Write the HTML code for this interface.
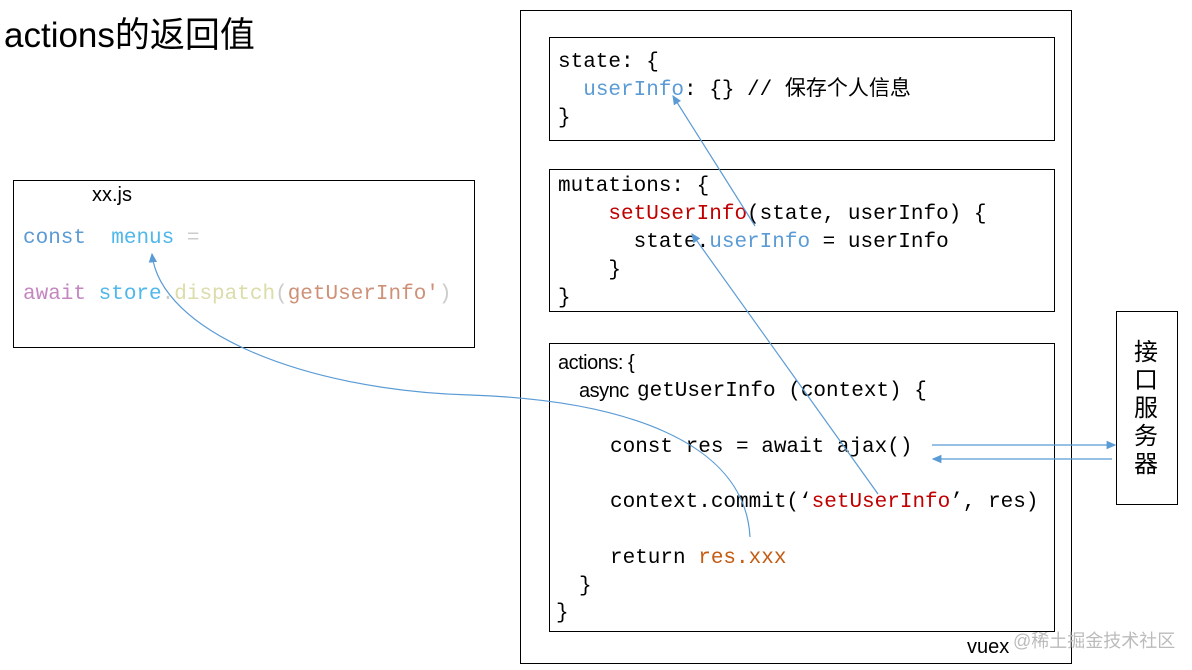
<!DOCTYPE html>
<html><head><meta charset="utf-8"><style>
body{margin:0;width:1192px;height:670px;background:#fff;position:relative;overflow:hidden;font-family:"Liberation Sans","Noto Sans CJK SC",sans-serif}
.b{position:absolute;border:1px solid #000;box-sizing:border-box}
.t{position:absolute;white-space:pre;font-family:"Liberation Mono","Noto Sans CJK SC",monospace;font-size:21px;color:#000;line-height:28px}
.s{position:absolute;white-space:pre;font-size:20px;line-height:28px}
</style></head><body>
<div class="s" style="left:4px;top:15px;font-size:35px;line-height:42px">actions的返回值</div>
<div class="b" style="left:13px;top:180px;width:462px;height:168px"></div>
<div class="s" style="left:92px;top:181px">xx.js</div>
<div class="t" style="left:23px;top:225px"><span style="color:#5b9bd5">const</span>  <span style="color:#4fb7ea">menus</span> <span style="color:#ccc">=</span></div>
<div class="t" style="left:23px;top:281px"><span style="color:#c586c0">await</span> <span style="color:#4fb7ea">store</span><span style="color:#ccc">.</span><span style="color:#dcdcaa">dispatch</span><span style="color:#ccc">(</span><span style="color:#ce9178">getUserInfo'</span><span style="color:#ccc">)</span></div>

<div class="b" style="left:520px;top:10px;width:552px;height:654px"></div>
<div class="s" style="left:967px;top:633px">vuex</div>
<div class="s" style="left:1013px;top:627px;color:#bbb;font-size:18px">@稀土掘金技术社区</div>

<div class="b" style="left:549px;top:37px;width:506px;height:104px"></div>
<div class="t" style="left:558px;top:49px">state: {
  <span style="color:#5b9bd5">userInfo</span>: {} // 保存个人信息
}</div>

<div class="b" style="left:549px;top:169px;width:506px;height:143px"></div>
<div class="t" style="left:558px;top:173px">mutations: {
    <span style="color:#c00000">setUserInfo</span>(state, userInfo) {
      state.<span style="color:#5b9bd5">userInfo</span> = userInfo
    }
}</div>

<div class="b" style="left:549px;top:343px;width:506px;height:289px"></div>
<div class="s" style="left:558px;top:349px;letter-spacing:-0.5px">actions: {</div>
<div class="s" style="left:579px;top:377px;letter-spacing:-0.5px">async</div>
<div class="t" style="left:637px;top:378px">getUserInfo (context) {</div>
<div class="t" style="left:610px;top:434px">const res = await ajax()</div>
<div class="t" style="left:610px;top:489px">context.commit(‘<span style="color:#c00000">setUserInfo</span>’, res)</div>
<div class="t" style="left:610px;top:545px">return <span style="color:#c55a11">res.xxx</span></div>
<div class="t" style="left:579px;top:573px">}</div>
<div class="t" style="left:556px;top:600px">}</div>

<div class="b" style="left:1116px;top:311px;width:62px;height:194px"></div>
<div class="s" style="left:1134px;top:339px;font-size:24px;line-height:28px;width:30px;white-space:normal">接口服务器</div>

<svg width="1192" height="670" style="position:absolute;left:0;top:0">
<defs><marker id="a" markerWidth="8" markerHeight="8" refX="7" refY="4" orient="auto"><path d="M0,0.5L8,4L0,7.5z" fill="#5b9bd5"/></marker></defs>
<g stroke="#5b9bd5" stroke-width="1.2" fill="none">
<path d="M750,537 C745,440 620,400 470,395 C300,390 160,330 152,254" marker-end="url(#a)"/>
<path d="M878,494 L692,234" marker-end="url(#a)"/>
<path d="M755,226 L673,96" marker-end="url(#a)"/>
<path d="M932,445 L1115,445" marker-end="url(#a)"/>
<path d="M1112,459 L933,459" marker-end="url(#a)"/>
</g></svg>
</body></html>
